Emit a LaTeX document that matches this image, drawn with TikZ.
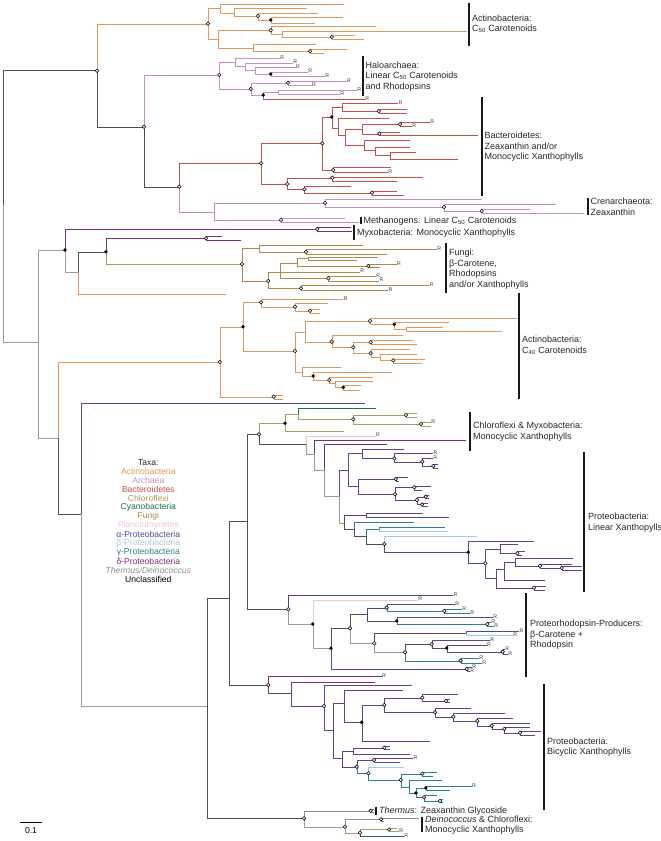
\documentclass[tikz,border=0pt]{standalone}
\usepackage{fontspec}
\setmainfont{Liberation Sans}
\pgfdeclarelayer{fg}
\pgfsetlayers{main,fg}
\definecolor{cAct}{HTML}{E1965A}
\definecolor{cArc}{HTML}{C490C0}
\definecolor{cBac}{HTML}{BF5048}
\definecolor{cChl}{HTML}{A89C64}
\definecolor{cCya}{HTML}{1F6E4E}
\definecolor{cFun}{HTML}{B08848}
\definecolor{cPla}{HTML}{EFC6C8}
\definecolor{cAlp}{HTML}{4A4A98}
\definecolor{cBet}{HTML}{9ACFDF}
\definecolor{cGam}{HTML}{2E7F86}
\definecolor{cDel}{HTML}{7B2D7B}
\definecolor{cThe}{HTML}{8C8C8C}
\definecolor{cDk}{HTML}{505050}
\definecolor{cGr}{HTML}{9A9A9A}
\newcounter{tipc}
\newcommand\Bx[5]{\coordinate (#1) at (#3,#4);\draw[#5] (#2) |- (#1);}
\newcommand\Ox[1]{\begin{pgfonlayer}{fg}\node[ocirc] (mo-#1) at (#1) {};\end{pgfonlayer}}
\newcommand\Fx[1]{\begin{pgfonlayer}{fg}\node[fcirc] (mf-#1) at (#1) {};\end{pgfonlayer}}
\newcommand\Bo[5]{\Bx{#1}{#2}{#3}{#4}{#5}\Ox{#1}}
\newcommand\Bf[5]{\Bx{#1}{#2}{#3}{#4}{#5}\Fx{#1}}
\newcommand\Tx[4]{\stepcounter{tipc}\coordinate (t\arabic{tipc}) at (#2,#3);\draw[#4] (#1) |- (t\arabic{tipc});}
\newcommand\TRx[4]{\Tx{#1}{#2}{#3}{#4}\node[rl] (r\arabic{tipc}) at (t\arabic{tipc}) {R};}
\tikzset{
  kact/.style={draw=cAct}, karc/.style={draw=cArc}, kbac/.style={draw=cBac},
  kchl/.style={draw=cChl}, kcya/.style={draw=cCya}, kfun/.style={draw=cFun},
  kpla/.style={draw=cPla}, kalp/.style={draw=cAlp}, kbet/.style={draw=cBet},
  kgam/.style={draw=cGam}, kdel/.style={draw=cDel}, kthe/.style={draw=cThe},
  kdk/.style={draw=cDk}, kgr/.style={draw=cGr},
  ocirc/.style={circle, draw=black, fill=white, line width=0.55pt, inner sep=0pt, minimum size=3.6pt},
  fcirc/.style={circle, fill=black, inner sep=0pt, minimum size=3.8pt},
  rl/.style={anchor=west, inner sep=0.2pt, yshift=0.5pt, font=\fontsize{5.2}{5.2}\selectfont, text=black!80},
  lab/.style={anchor=west, align=left, inner sep=0pt, font=\fontsize{9}{10.5}\selectfont, text=black!85},
  lg/.style={anchor=center, inner sep=0pt, font=\fontsize{8.6}{9}\selectfont},
  bar/.style={line width=2.2pt, draw=black!90}
}
\begin{document}
\begin{tikzpicture}[x=1pt,y=-1pt,line width=0.85pt]
\useasboundingbox (0,0) rectangle (661,841);
\coordinate (root) at (3,205);
\Bx{A}{root}{97}{70.7}{kdk}\Ox{A}
% Actinobacteria C50
\Bo{ac5}{A}{208}{23.7}{kact}
\Bx{a1}{ac5}{220}{8}{kact}
\Tx{a1}{344}{4}{kact}
\Bx{a2}{a1}{234.3}{12.7}{kact}
\Tx{a2}{306.7}{8.3}{kact}
\Bo{a3}{a2}{258}{16}{kact}
\Tx{a3}{318}{12.7}{kact}
\Bf{a4}{a3}{270.7}{20}{kact}
\Tx{a4}{343}{17.3}{kact}
\Tx{a4}{315}{22.7}{kact}
\Bx{b1}{ac5}{217.7}{39.3}{kact}
\Bo{b2}{b1}{270.7}{30.3}{kact}
\Tx{b2}{375.7}{26}{kact}
\Bx{b4}{b2}{281.7}{34}{kact}
\Tx{b4}{466.7}{31}{kact}
\Bo{b5}{b4}{331.7}{37}{kact}
\Tx{b5}{355}{35}{kact}
\Tx{b5}{363.7}{39}{kact}
\Bx{b3}{b1}{252.7}{47.7}{kact}
\Tx{b3}{315.7}{44.3}{kact}
\Bo{b6}{b3}{310}{51.3}{kact}
\Tx{b6}{346.7}{49.3}{kact}
\Tx{b6}{324}{53.3}{kact}
% Haloarchaea
\Bo{H}{A}{144}{126.7}{kdk}
\Bo{h0}{H}{219.3}{75}{karc}
\Bx{h1}{h0}{235.3}{62}{karc}
\TRx{h1}{280}{58.3}{karc}
\Bx{h2}{h1}{244.7}{66.3}{karc}
\TRx{h2}{293}{62.7}{karc}
\Bx{h3}{h2}{255.3}{70.5}{karc}
\TRx{h3}{295.7}{67.3}{karc}
\Bf{h4}{h3}{270.7}{74}{karc}
\TRx{h4}{308}{71.7}{karc}
\TRx{h4}{325}{76}{karc}
\Bo{h5}{h0}{250.7}{89}{karc}
\Bo{h6}{h5}{288}{82.7}{karc}
\TRx{h6}{346.7}{81}{karc}
\TRx{h6}{311.7}{85}{karc}
\Bf{h7}{h5}{263.3}{95}{karc}
\Bx{h8}{h7}{278.3}{92}{karc}
\TRx{h8}{357}{90}{karc}
\TRx{h8}{340}{94}{karc}
\TRx{h7}{365}{99}{kbac}
% Bacteroidetes
\Bo{Q}{H}{179.3}{186.7}{kdk}
\Bo{bc}{Q}{261}{163.3}{kbac}
\Bo{c1}{bc}{322.3}{143.3}{kbac}
\Bf{c2}{c1}{331.7}{117}{kbac}
\Bx{c3}{c2}{341.7}{106.7}{kbac}
\TRx{c3}{398.3}{103.3}{kbac}
\Bo{c4}{c3}{378.7}{111}{kbac}
\Tx{c4}{406.7}{109.3}{kbac}
\Tx{c4}{406.7}{113}{kbac}
\Bx{c5}{c2}{338}{128}{kbac}
\Tx{c5}{389}{117.7}{kbac}
\Bx{c6}{c5}{345}{135}{kbac}
\Bx{c7}{c6}{361.7}{128.7}{kbac}
\Bo{c8}{c7}{400}{124.3}{kbac}
\TRx{c8}{430}{122.3}{kbac}
\TRx{c8}{412}{126.3}{kbac}
\Bo{c9}{c7}{379.3}{133.7}{kbac}
\Tx{c9}{400}{132}{kbac}
\Tx{c9}{478.3}{135.3}{kbac}
\Bx{c10}{c6}{364}{145}{kbac}
\Tx{c10}{410}{140}{kbac}
\Bx{c11}{c10}{374.7}{150}{kbac}
\Tx{c11}{410}{146.7}{kbac}
\Bx{c12}{c11}{390}{155.3}{kbac}
\Tx{c12}{416}{152.5}{kbac}
\Tx{c12}{458}{158.7}{kbac}
\Bo{c13}{c1}{333.3}{170}{kbac}
\Tx{c13}{391}{167.3}{kbac}
\TRx{c13}{388}{172.3}{kbac}
\Bo{c14}{bc}{287.3}{184}{kbac}
\Bo{c15}{c14}{332.3}{177.7}{kbac}
\Tx{c15}{422.7}{176.7}{kbac}
\Tx{c15}{396.7}{180.7}{kbac}
\Bo{c16}{c14}{304.3}{189.3}{kbac}
\Tx{c16}{350.7}{185.7}{kbac}
\Bo{c17}{c16}{372}{192.7}{kbac}
\Tx{c17}{396.7}{190.7}{kbac}
\Tx{c17}{404}{195.3}{kbac}
% Crenarchaeota and methanogens
\Bx{M}{Q}{214.3}{211.7}{karc}
\Bo{m1}{M}{325}{203}{karc}
\Tx{m1}{481.7}{199.3}{karc}
\Bo{m2}{m1}{444}{207}{karc}
\Tx{m2}{556}{204}{karc}
\Bo{m3}{m2}{481.7}{211}{karc}
\Tx{m3}{530}{209}{karc}
\Tx{m3}{584.3}{213.3}{karc}
\Bo{m4}{M}{281}{220}{karc}
\Tx{m4}{345}{218.3}{karc}
\Tx{m4}{358.7}{222.3}{karc}
% Myxobacteria and fungi
\Bx{N}{root}{38}{341.7}{kgr}
\Bf{P}{N}{65}{250}{kgr}
\Bo{my}{P}{317.3}{229}{kdel}
\Tx{my}{350.7}{227}{kdel}
\Tx{my}{352}{231.3}{kdel}
\Bx{P2}{P}{78.3}{271.7}{kgr}
\Bf{P3}{P2}{106}{251.7}{kdk}
\Bo{p4}{P3}{206}{238.3}{kdel}
\Tx{p4}{221.7}{236}{kdel}
\Tx{p4}{241}{240}{kdel}
\Tx{P2}{225.7}{294}{kact}
\Bo{fu}{P3}{242}{264}{kchl}
\Bx{f1}{fu}{259.3}{248.3}{kfun}
\Tx{f1}{362.7}{245}{kfun}
\Bo{f2}{f1}{306}{251.7}{kfun}
\TRx{f2}{437}{249.3}{kfun}
\Tx{f2}{386.7}{254}{kfun}
\Bo{f3}{fu}{268.3}{281}{kfun}
\Bx{f4}{f3}{280}{272.3}{kfun}
\Bx{f5}{f4}{296.7}{263}{kfun}
\Bx{f6}{f5}{308.3}{258.3}{kfun}
\Tx{f6}{378}{256.8}{kfun}
\Tx{f6}{357}{259.8}{kfun}
\Bo{f7}{f5}{368.3}{266}{kfun}
\TRx{f7}{396.7}{264.5}{kfun}
\Tx{f7}{380}{267.5}{kfun}
\TRx{f4}{360}{271.7}{kfun}
\Bo{f8}{f4}{328.3}{278.3}{kfun}
\TRx{f8}{376}{276}{kfun}
\TRx{f8}{379.3}{280.7}{kfun}
\Bo{f9}{f3}{301}{288.3}{kfun}
\TRx{f9}{429.3}{285}{kfun}
\TRx{f9}{388.3}{290}{kfun}
% Actinobacteria C40
\Bx{L}{N}{58}{438}{kgr}
\Bo{k0}{L}{219.7}{362}{kact}
\Bf{k1}{k0}{243}{326.7}{kact}
\Bo{k2}{k1}{261}{302.3}{kact}
\TRx{k2}{343.3}{299}{kact}
\Bo{k3}{k2}{295}{306.7}{kact}
\Tx{k3}{327.7}{303.3}{kact}
\Bo{k4}{k3}{310}{310.7}{kact}
\Tx{k4}{320}{308.7}{kact}
\Tx{k4}{320}{312.7}{kact}
\Bo{k5}{k1}{295}{351}{kact}
\Bx{k6}{k5}{305}{331.7}{kact}
\Bo{k7}{k6}{370}{321}{kact}
\Tx{k7}{516.7}{317.7}{kact}
\Bf{k8}{k7}{394.3}{324.3}{kact}
\Tx{k8}{448.7}{321.7}{kact}
\Bx{k9}{k8}{405.7}{328.7}{kact}
\Tx{k9}{443.3}{326.7}{kact}
\Tx{k9}{501.7}{330.7}{kact}
\Bo{k10}{k6}{331.7}{341.7}{kact}
\Tx{k10}{403.3}{335}{kact}
\Bo{k11}{k10}{353.3}{347.3}{kact}
\Bo{k12}{k11}{370.7}{342.3}{kact}
\Tx{k12}{413.3}{340}{kact}
\Tx{k12}{416.7}{344}{kact}
\Bo{k13}{k11}{370.7}{353.3}{kact}
\Tx{k13}{410}{349}{kact}
\Bx{k14}{k13}{380}{357.3}{kact}
\Tx{k14}{416.7}{354}{kact}
\Bo{k15}{k14}{393.3}{360.3}{kact}
\Tx{k15}{425.3}{358.7}{kact}
\Tx{k15}{421.7}{362.7}{kact}
\Bx{k16}{k5}{301.7}{371.7}{kact}
\Tx{k16}{340.7}{367.3}{kact}
\Bf{k17}{k16}{313.3}{376}{kact}
\Tx{k17}{392}{371.7}{kact}
\Bo{k18}{k17}{329.3}{380}{kact}
\Tx{k18}{373.3}{376.7}{kact}
\Bx{k19}{k18}{335}{383.3}{kact}
\Tx{k19}{372.7}{381}{kact}
\Bf{k20}{k19}{343.3}{387.3}{kact}
\Tx{k20}{361}{385}{kact}
\Tx{k20}{360}{389.7}{kact}
\Bo{k21}{k0}{273.7}{396.7}{kact}
\Tx{k21}{283}{395}{kact}
\Tx{k21}{282.7}{399}{kact}
% lower half
\Bx{U}{L}{80.7}{514}{kdk}
\Tx{U}{365}{403}{kalp}
\Bx{V}{U}{207.3}{706}{kgr}
\Bx{W}{V}{229}{598}{kdk}
\Bx{X}{W}{246.7}{521}{kdk}
% Chloroflexi & Myxobacteria
\Bo{cm}{X}{259}{434.3}{kdk}
\Bf{cm1}{cm}{285}{423.3}{kchl}
\Bx{cm2}{cm1}{298}{414}{kchl}
\Tx{cm2}{375.7}{408.3}{kcya}
\Bo{cm3}{cm2}{353.3}{419.3}{kchl}
\Bo{cm4}{cm3}{406}{415}{kchl}
\Tx{cm4}{417.3}{413.3}{kchl}
\Tx{cm4}{417.3}{416.7}{kchl}
\Bo{cm5}{cm3}{421}{424}{kchl}
\TRx{cm5}{431}{422.3}{kchl}
\Tx{cm5}{431}{426.3}{kchl}
\Tx{cm1}{344}{430.7}{kchl}
\Bx{cm6}{cm}{305.7}{444.3}{kdk}
\TRx{cm6}{375.7}{435.7}{kpla}
\Bx{cm7}{cm6}{314.3}{454.3}{kgr}
\Tx{cm7}{466}{440}{kdel}
\Bx{cm8}{cm7}{324}{470}{kgr}
\Tx{cm8}{386.7}{444.3}{kdel}
\Bx{pl}{cm8}{339.3}{495.7}{kgr}
% Linear xanthophylls
\Bx{pa}{pl}{348.3}{470}{kalp}
\Bx{pa1}{pa}{361.7}{453.3}{kalp}
\Tx{pa1}{404.3}{449.3}{kalp}
\Bo{pa2}{pa1}{394.3}{458.3}{kalp}
\TRx{pa2}{433.3}{453.3}{kalp}
\Bo{pa3}{pa2}{422.3}{461.7}{kalp}
\TRx{pa3}{433}{457.9}{kalp}
\Bo{pa5}{pa3}{433.3}{466}{kalp}
\Tx{pa5}{438}{464.5}{kalp}
\Tx{pa5}{438}{468}{kalp}
\Bx{pa6}{pa}{358.3}{486}{kalp}
\Bo{pa7}{pa6}{395.7}{479}{kalp}
\Tx{pa7}{408}{477.3}{kalp}
\Tx{pa7}{399}{481}{kalp}
\Bo{pa8}{pa6}{395}{494.3}{kalp}
\Bo{pa9}{pa8}{414.3}{487.3}{kalp}
\Tx{pa9}{431}{486}{kalp}
\Tx{pa9}{422}{489.7}{kalp}
\Bo{pa10}{pa8}{417}{500}{kalp}
\Bo{pa11}{pa10}{425.7}{496.7}{kalp}
\Tx{pa11}{429}{495.3}{kalp}
\Tx{pa11}{429}{498}{kalp}
\Bo{pa12}{pa10}{422}{504.5}{kalp}
\Tx{pa12}{428}{503}{kalp}
\Tx{pa12}{428}{506}{kalp}
\Bx{pb}{pl}{343.7}{523.3}{kgr}
\Bx{pb1}{pb}{365.7}{515}{kalp}
\Tx{pb1}{423.3}{512.7}{kalp}
\Tx{pb1}{449.3}{517.3}{kalp}
\Bx{pb2}{pb}{354.3}{529}{kdk}
\Tx{pb2}{414}{522.3}{kgam}
\Bx{pb3}{pb2}{365.7}{535.7}{kdk}
\Bx{pb4}{pb3}{379.3}{528.7}{kgam}
\Tx{pb4}{445}{526.7}{kgam}
\Tx{pb4}{448}{531}{kbet}
\Bo{pb5}{pb3}{384.3}{544}{kdk}
\Tx{pb5}{476.7}{535.7}{kbet}
\Bf{lx}{pb5}{468.3}{552.3}{kalp}
\Tx{lx}{534}{540.7}{kalp}
\Bo{lx1}{lx}{485.3}{563.3}{kalp}
\Bx{lx2}{lx1}{500}{548.7}{kalp}
\Tx{lx2}{518.3}{544.3}{kalp}
\Bo{lx3}{lx2}{517.3}{553.3}{kalp}
\Tx{lx3}{525}{551.5}{kalp}
\Tx{lx3}{522}{555}{kalp}
\Bx{lx4}{lx1}{496}{578}{kalp}
\Bx{lx5}{lx4}{504.3}{569}{kalp}
\Bx{lx6}{lx5}{515}{562}{kalp}
\Tx{lx6}{572.7}{558.3}{kalp}
\Bo{lx7}{lx6}{540}{565.7}{kalp}
\Tx{lx7}{572}{563.7}{kalp}
\Bo{lx8}{lx7}{561.7}{568}{kalp}
\Tx{lx8}{582}{566.5}{kalp}
\Tx{lx8}{582}{570}{kalp}
\Tx{lx5}{545}{580}{kalp}
\Bo{lx9}{lx4}{534}{587.7}{kalp}
\Tx{lx9}{546}{585.7}{kalp}
\Tx{lx9}{545}{589.7}{kalp}
% Proteorhodopsin producers
\Bo{Y}{X}{288.3}{609.3}{kdk}
\TRx{Y}{453.3}{595}{kalp}
\Bf{y1}{Y}{312.7}{624}{kgr}
\TRx{y1}{418}{599.7}{kpla}
\Bf{y2}{y1}{331}{648.3}{kgr}
\Bo{y3}{y2}{350}{628.3}{kdk}
\Bx{y4}{y3}{366.7}{614}{kdk}
\Bo{y5}{y4}{386.7}{607.7}{kalp}
\TRx{y5}{455}{604.3}{kalp}
\Bo{y6}{y5}{444.3}{611}{kgam}
\TRx{y6}{462}{608.8}{kgam}
\TRx{y6}{470}{613.2}{kgam}
\Bf{y7}{y4}{396.7}{621}{kdk}
\TRx{y7}{493}{617.3}{kalp}
\Bo{y8}{y7}{487.3}{624.2}{kgam}
\TRx{y8}{491}{621.9}{kgam}
\TRx{y8}{494}{626.6}{kgam}
\Bo{y9}{y3}{374.3}{643.3}{kgr}
\Bx{y10}{y9}{466}{633.3}{kdk}
\TRx{y10}{519.3}{631.4}{kalp}
\TRx{y10}{513}{635.6}{kbet}
\Bo{y11}{y9}{405}{652.3}{kgr}
\Bo{y12}{y11}{431.7}{644.3}{kdk}
\TRx{y12}{490}{640}{kalp}
\Bf{y13}{y12}{446.7}{648}{kdk}
\TRx{y13}{486.7}{645.5}{kalp}
\Bo{y14}{y13}{502.7}{651.7}{kalp}
\TRx{y14}{505}{649.6}{kalp}
\TRx{y14}{508}{654.2}{kalp}
\Bo{y15}{y11}{460.7}{660.7}{kgam}
\TRx{y15}{479}{658.5}{kgam}
\TRx{y15}{482}{663}{kgam}
\Bo{y16}{y2}{466.7}{669}{kalp}
\TRx{y16}{472}{666.8}{kalp}
\TRx{y16}{470}{671.3}{kalp}
% Bicyclic xanthophylls
\Bo{Z}{W}{268.3}{685}{kdk}
\TRx{Z}{381.7}{676}{kdel}
\Bx{z1}{Z}{291}{693.3}{kdk}
\Tx{z1}{375}{681.7}{kdel}
\Bo{z2}{z1}{324}{706}{kalp}
\Tx{z2}{412.3}{685}{kalp}
\Bx{z3}{z2}{333.3}{730}{kalp}
\Bx{z4}{z3}{344.3}{703.3}{kalp}
\Tx{z4}{402.7}{690}{kalp}
\Bf{z5}{z4}{361.7}{722.3}{kalp}
\Bo{z6}{z5}{384.3}{705}{kalp}
\Bo{z7}{z6}{422.3}{697.7}{kalp}
\Tx{z7}{458.3}{694.3}{kalp}
\Bo{z8}{z7}{446}{701}{kalp}
\Tx{z8}{450}{699.5}{kalp}
\Tx{z8}{450}{702.5}{kalp}
\Bo{z9}{z6}{435}{712.3}{kalp}
\Tx{z9}{470.7}{707.7}{kalp}
\Bo{z10}{z9}{453.3}{716.7}{kalp}
\Tx{z10}{505}{713.3}{kalp}
\Bo{z11}{z10}{477.3}{721}{kalp}
\Tx{z11}{513.3}{718}{kalp}
\Bo{z12}{z11}{491.7}{725.7}{kalp}
\Tx{z12}{530}{722.7}{kalp}
\Bo{z13}{z12}{504.3}{729}{kalp}
\Tx{z13}{530}{726.7}{kalp}
\Bo{z14}{z13}{520}{732.7}{kalp}
\Tx{z14}{541}{731}{kalp}
\Tx{z14}{535}{734.7}{kalp}
\Tx{z5}{430}{741}{kalp}
\Bx{z15}{z3}{341.7}{758.3}{kalp}
\Bx{z16}{z15}{353.3}{751}{kalp}
\Bo{z17}{z16}{384.3}{747.7}{kalp}
\Tx{z17}{390}{746.2}{kalp}
\Tx{z17}{390}{749.2}{kalp}
\Tx{z16}{410}{754.3}{kalp}
\Bo{z18}{z15}{356.7}{766.7}{kalp}
\Bo{z19}{z18}{374}{760}{kalp}
\TRx{z19}{413.3}{758.3}{kalp}
\Tx{z19}{400}{762}{kalp}
\Bo{z20}{z18}{368.3}{773.3}{kgam}
\Tx{z20}{404.3}{766.7}{kbet}
\Bo{z21}{z20}{400.7}{780}{kgam}
\Bo{z22}{z21}{422.3}{773.7}{kgam}
\Tx{z22}{437}{772}{kgam}
\Tx{z22}{433}{775.7}{kgam}
\Bx{z23}{z21}{409}{786.7}{kgam}
\Tx{z23}{441.7}{780}{kgam}
\Bf{z24}{z23}{416}{793}{kgam}
\Bf{z25}{z24}{425.7}{788}{kgam}
\TRx{z25}{471.7}{786}{kgam}
\Tx{z25}{450}{790}{kgam}
\Bo{z26}{z24}{424}{797.3}{kgam}
\Tx{z26}{437}{795.3}{kgam}
\Bo{z27}{z26}{440}{801}{kgam}
\Tx{z27}{443}{799.5}{kgam}
\Tx{z27}{443}{802.5}{kgam}
% Thermus / Deinococcus
\Bo{T}{V}{304}{818.3}{kdk}
\Bo{th}{T}{370.7}{810.7}{kthe}
\Tx{th}{373.5}{809.2}{kthe}
\Tx{th}{373.5}{812.2}{kthe}
\Bo{dn}{T}{345}{826.7}{kgr}
\Bo{dn1}{dn}{381}{819.3}{kthe}
\Tx{dn1}{419.3}{817.7}{kthe}
\Tx{dn1}{384}{821}{kthe}
\Bo{dn2}{dn}{360}{832.7}{kchl}
\Bo{dn3}{dn2}{389}{829.5}{kchl}
\Tx{dn3}{397}{828}{kchl}
\TRx{dn3}{399}{831}{kchl}
\TRx{dn2}{404}{836.5}{kcya}
% clade bars and labels
\draw[bar] (469.3,3.3) -- (469.3,46);
\node[lab] (l1) at (472,23.8) {Actinobacteria:\\C\textsubscript{50} Carotenoids};
\draw[bar] (362.7,56) -- (362.7,95.7);
\node[lab] (l2) at (365.5,76.3) {Haloarchaea:\\Linear C\textsubscript{50} Carotenoids\\and Rhodopsins};
\draw[bar] (481.7,97.3) -- (481.7,196);
\node[lab] (l3) at (484.5,146.7) {Bacteroidetes:\\Zeaxanthin and/or\\Monocyclic Xanthophylls};
\draw[bar] (587.7,198) -- (587.7,215);
\node[lab] (l4) at (590.5,207) {Crenarchaeota:\\Zeaxanthin};
\draw[bar] (360.7,216.7) -- (360.7,224.3);
\node[lab] (l5) at (363.5,221) {Methanogens: Linear C\textsubscript{50} Carotenoids};
\draw[bar] (354.3,225) -- (354.3,240);
\node[lab] (l6) at (357,233) {Myxobacteria: Monocyclic Xanthophylls};
\draw[bar] (445.7,243.3) -- (445.7,292.7);
\node[lab] (l7) at (449,269) {Fungi:\\β-Carotene,\\Rhodopsins\\and/or Xanthophylls};
\draw[bar] (519.3,293.3) -- (519.3,399.3);
\node[lab] (l8) at (522,345.3) {Actinobacteria:\\C\textsubscript{40} Carotenoids};
\draw[bar] (470,411.7) -- (470,450.7);
\node[lab] (l9) at (473,431.7) {Chloroflexi \& Myxobacteria:\\Monocyclic Xanthophylls};
\draw[bar] (584.3,451.7) -- (584.3,591.7);
\node[lab] (l10) at (588,522.7) {Proteobacteria:\\Linear Xanthopylls};
\draw[bar] (526,593) -- (526,677.3);
\node[lab] (l11) at (530,635) {Proteorhodopsin-Producers:\\β-Carotene +\\Rhodopsin};
\draw[bar] (544,684) -- (544,810);
\node[lab] (l12) at (547,747) {Proteobacteria:\\Bicyclic Xanthophylls};
\draw[bar] (376,806.5) -- (376,815);
\node[lab] (l13) at (379,811) {\itshape Thermus\upshape: Zeaxanthin Glycoside};
\draw[bar] (422.3,816.7) -- (422.3,832.3);
\node[lab] (l14) at (425,825) {\itshape Deinococcus\upshape{} \& Chloroflexi:\\Monocyclic Xanthophylls};
% legend
\node[lg,text=black!85] (lg1) at (148.3,462.7) {Taxa:};
\node[lg,text=cAct] (lg2) at (148.3,471.7) {Actinobacteria};
\node[lg,text=cArc] (lg3) at (148.3,480.7) {Archaea};
\node[lg,text=cBac] (lg4) at (148.3,489.7) {Bacteroidetes};
\node[lg,text=cChl] (lg5) at (148.3,498.7) {Chloroflexi};
\node[lg,text=cCya] (lg6) at (148.3,507.7) {Cyanobacteria};
\node[lg,text=cFun] (lg7) at (148.3,516.7) {Fungi};
\node[lg,text=cPla] (lg8) at (148.3,525.7) {Planctomycetes};
\node[lg,text=cAlp] (lg9) at (148.3,534.7) {α-Proteobacteria};
\node[lg,text=cBet] (lg10) at (148.3,543.7) {β-Proteobacteria};
\node[lg,text=cGam] (lg11) at (148.3,552.7) {γ-Proteobacteria};
\node[lg,text=cDel] (lg12) at (148.3,561.7) {δ-Proteobacteria};
\node[lg,text=cThe] (lg13) at (148.3,570.7) {\itshape Thermus/Deinococcus};
\node[lg,text=black] (lg14) at (148.3,579.7) {Unclassified};
% scale bar
\coordinate (sb1) at (20,822);
\coordinate (sb2) at (42,822);
\draw[line width=0.7pt,black] (sb1) -- (sb2);
\node[lg,text=black] (sbl) at (31,831) {0.1};
\end{tikzpicture}
\end{document}
